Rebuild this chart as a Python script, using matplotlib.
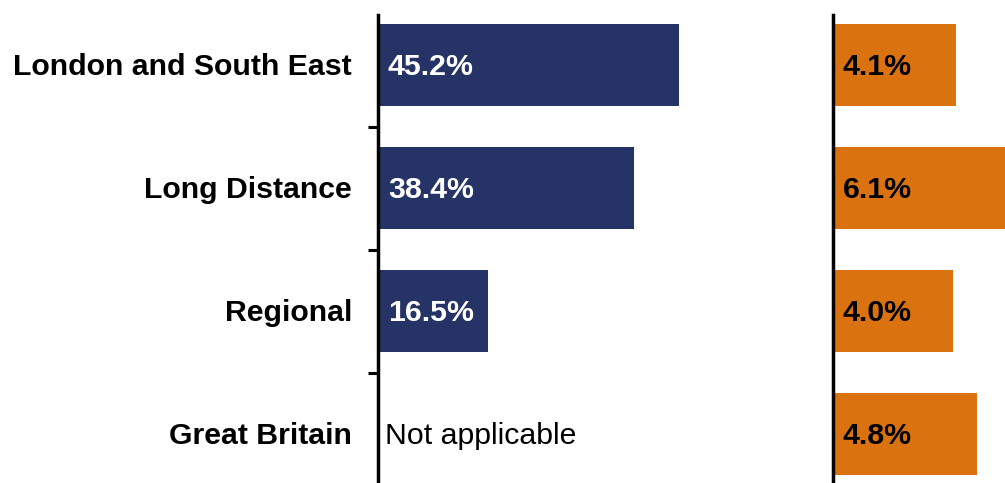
import matplotlib.pyplot as plt

categories = ["London and South East", "Long Distance", "Regional", "Great Britain"]
share = [45.2, 38.4, 16.5, None]
growth = [4.1, 6.1, 4.0, 4.8]

navy = "#263366"
orange = "#DB7210"

plt.rcParams["font.family"] = ["Liberation Sans", "DejaVu Sans"]
fs = 21.8

fig = plt.figure(figsize=(10.05, 4.83), dpi=100)
W, H = 1005, 483
# axes placed in pixel terms
ax1 = fig.add_axes([378 / W, 0, (780 - 378) / W, (483 - 15) / H])
ax2 = fig.add_axes([833 / W, 0, (1005 - 833) / W, (483 - 15) / H])

ypos = list(range(len(categories)))
ylim = (3.398, -0.407)
dy = 0.015  # nudge labels slightly down

for i, v in enumerate(share):
    if v is None:
        ax1.text(1.0, i + dy, "Not applicable", va="center", ha="left",
                 fontsize=fs, color="black")
    else:
        ax1.barh(i, v, height=0.667, color=navy)
        ax1.text(1.5, i + dy, f"{v:.1f}%", va="center", ha="left",
                 fontsize=fs, fontweight="bold", color="white")

ax1.set_xlim(0, 402 / 6.66)
ax1.set_ylim(*ylim)
ax1.set_yticks([0.5, 1.5, 2.5])
ax1.set_yticklabels([])
ax1.tick_params(axis="y", length=7, width=2.2, direction="out")
ax1.set_xticks([])
for i, c in enumerate(categories):
    ax1.text(-26 / 402, i + dy, c, transform=ax1.get_yaxis_transform(),
             va="center", ha="right", fontsize=fs, fontweight="bold")

ax2.barh(ypos, growth, height=0.667, color=orange)
for i, v in enumerate(growth):
    ax2.text(0.33, i + dy, f"{v:.1f}%", va="center", ha="left",
             fontsize=fs, fontweight="bold", color="black")
ax2.set_xlim(0, 172 / 30)
ax2.set_ylim(*ylim)
ax2.set_yticks([])
ax2.set_xticks([])

for ax in (ax1, ax2):
    for s in ("top", "right", "bottom"):
        ax.spines[s].set_visible(False)
    ax.spines["left"].set_linewidth(2.5)
    ax.spines["left"].set_zorder(5)

fig.savefig("out.png", dpi=100)
